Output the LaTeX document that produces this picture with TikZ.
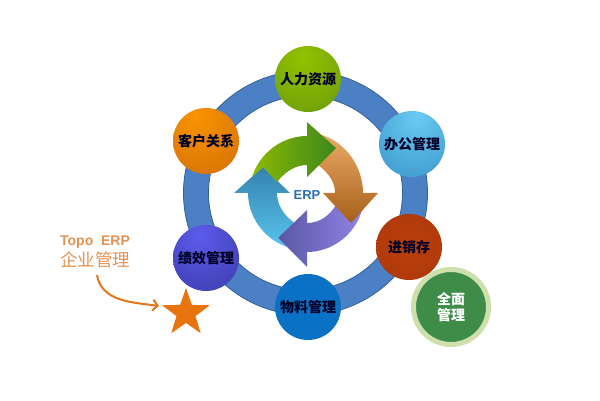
\documentclass[tikz,border=0pt]{standalone}
\usepackage{fontspec}
\setmainfont{Liberation Sans}
\newfontfamily\cjk{Noto Sans CJK SC}
\usetikzlibrary{shapes.geometric, arrows.meta}

\pgfdeclareradialshading{orbgreen}{\pgfpoint{-4bp}{18bp}}{rgb(0bp)=(.58,.76,0);rgb(30bp)=(.47,.66,.03);rgb(60bp)=(.22,.45,.08);rgb(70bp)=(.18,.4,.08)}
\pgfdeclareradialshading{orborange}{\pgfpoint{-8bp}{20bp}}{rgb(0bp)=(.98,.58,0);rgb(35bp)=(.86,.47,.02);rgb(70bp)=(.62,.31,.03)}
\pgfdeclareradialshading{orbblue}{\pgfpoint{4bp}{22bp}}{rgb(0bp)=(.42,.8,.95);rgb(35bp)=(.27,.63,.83);rgb(70bp)=(.15,.42,.62)}
\pgfdeclareradialshading{orbred}{\pgfpoint{0bp}{0bp}}{rgb(0bp)=(.73,.25,.05);rgb(35bp)=(.68,.22,.04);rgb(50bp)=(.55,.16,.04)}
\pgfdeclareradialshading{orbsea}{\pgfpoint{0bp}{0bp}}{rgb(0bp)=(.04,.45,.78);rgb(35bp)=(.04,.44,.77);rgb(50bp)=(.05,.4,.72)}
\pgfdeclareradialshading{orbviolet}{\pgfpoint{-6bp}{18bp}}{rgb(0bp)=(.36,.36,.93);rgb(35bp)=(.26,.26,.72);rgb(70bp)=(.14,.14,.45)}

\tikzset{
    orb/.style={circle, shade, minimum size=66, inner sep=0, font=\cjk\bfseries\fontsize{14}{16}\selectfont, text=black!85!blue},
}

\begin{document}
\begin{tikzpicture}[x=1pt, y=-1pt]
    \useasboundingbox (0, 0) rectangle (600, 401);

    % outer ring
    \draw[even odd rule, fill={rgb,255:red,76;green,128;blue,196}, draw={rgb,255:red,52;green,96;blue,150}, line width=0.8]
        (305.5, 193) circle (122) (305.5, 193) circle (97);

    % inner arrows
    \shade[top color={rgb,255:red,52;green,130;blue,175}, bottom color={rgb,255:red,88;green,196;blue,236}]
        (234, 193) -- (263, 167) -- (290, 193) -- (277, 193) .. controls (277, 205) and (284, 216) .. (296, 224)
        -- (278, 238) -- (287, 247) .. controls (262, 238) and (248, 215) .. (248, 193) -- cycle;
    \shade[left color={rgb,255:red,88;green,88;blue,165}, right color={rgb,255:red,146;green,130;blue,228}]
        (362, 210) .. controls (355, 235) and (332, 252) .. (307, 252) -- (307, 267) -- (278, 238) -- (307, 210)
        -- (307, 223) .. controls (320, 223) and (330, 215) .. (336, 205) -- cycle;
    \shade[top color={rgb,255:red,235;green,170;blue,100}, bottom color={rgb,255:red,165;green,95;blue,25}]
        (322, 135) .. controls (347, 143) and (363, 168) .. (363, 193) -- (378, 193) -- (351, 223) -- (323, 193)
        -- (335, 193) .. controls (335, 183) and (330, 174) .. (318, 165) -- cycle;
    \shade[left color={rgb,255:red,140;green,186;blue,0}, right color={rgb,255:red,60;green,135;blue,30}]
        (252, 177) .. controls (260, 152) and (283, 136) .. (307, 136) -- (307, 122) -- (336, 148) -- (307, 177)
        -- (307, 165) .. controls (295, 165) and (285, 172) .. (277, 182) -- (263, 167) -- cycle;
    \node[font=\bfseries\fontsize{13}{15}\selectfont, text={rgb,255:red,42;green,112;blue,178}, inner sep=0] (erp) at (307, 195) {ERP};

    % balls on the ring
    \node[orb, shading=orbgreen] (staff) at (308, 79) {人力资源};
    \node[orb, shading=orbblue] (office) at (412, 144) {办公管理};
    \node[orb, shading=orbred] (stock) at (409, 247) {进销存};
    \node[orb, shading=orbsea] (goods) at (308, 307) {物料管理};
    \node[orb, shading=orbviolet] (perf) at (206, 258) {绩效管理};
    \node[orb, shading=orborange] (client) at (206, 141) {客户关系};

    % side ball
    \node[circle, fill={rgb,255:red,62;green,140;blue,72}, draw={rgb,255:red,205;green,224;blue,172}, line width=5,
        minimum size=75, inner sep=0, align=center, text=white,
        font=\cjk\bfseries\fontsize{14}{16.7}\selectfont] (whole) at (451, 307) {全面\\管理};

    % note and star
    \node[star, star points=5, star point ratio=2.5, fill={rgb,255:red,232;green,116;blue,14}, minimum size=50, inner sep=0] (mark) at (186, 313) {};
    \node[align=center, inner sep=0, text={rgb,255:red,226;green,146;blue,80}] (note) at (95, 252)
        {{\bfseries\fontsize{14}{17}\selectfont Topo\ \ ERP}\\[2pt]{\cjk\fontsize{17.5}{21}\selectfont 企业管理}};
    \coordinate (tip) at (159, 306);
    \draw[-{Straight Barb[length=5, width=11]}, line width=2, draw={rgb,255:red,226;green,118;blue,24}] (note.south) ++(2, 7) coordinate (bend)
        (bend) to[out=-80, in=172] (tip);
\end{tikzpicture}
\end{document}
